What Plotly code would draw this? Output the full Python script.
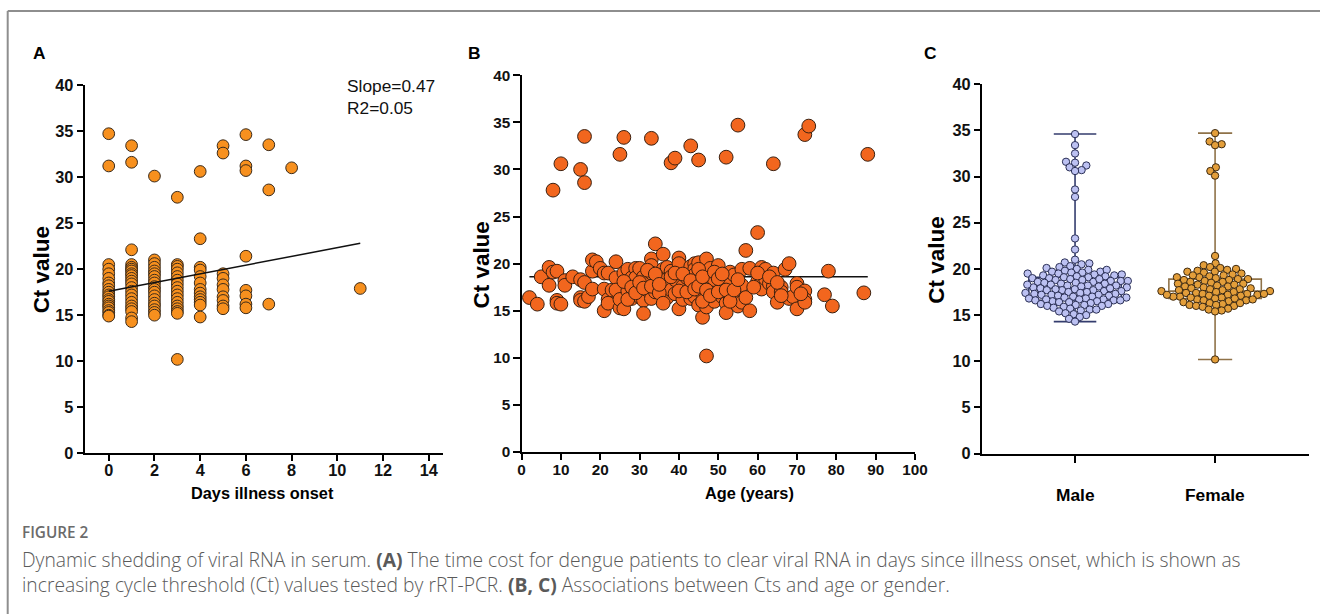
import numpy as np
import plotly.graph_objects as go

# page size of the figure (slightly larger than the window, overflow hidden)
FW, FH = 1340, 634
# measured mapping between page pixels and the photographed picture
SX, OX = 0.987, 4.3
SY, OY = 0.973, 8.0
S = 2 / (SX + SY)            # size compensation for fonts and markers

# ---------------- Panel A data: days since illness onset vs Ct ----------------
days_a = ([0] * 21 + [1] * 22 + [2] * 19 + [3] * 18 + [4] * 13 + [5] * 10 +
          [6] * 8 + [7] * 3 + [8] + [11])
ct_a = [
    # day 0
    34.7, 31.2, 20.5, 20.0, 19.5, 19.0, 18.5, 18.2, 17.8, 17.5, 17.2, 17.0, 16.7,
    16.5, 16.2, 16.0, 15.8, 15.5, 15.3, 15.0, 14.9,
    # day 1
    33.4, 31.6, 22.1, 20.5, 20.2, 20.0, 19.8, 19.5, 19.3, 19.0, 18.7, 18.4, 18.0,
    17.6, 17.2, 16.8, 16.4, 16.0, 15.7, 15.4, 14.7, 14.3,
    # day 2
    30.1, 21.0, 20.6, 20.2, 19.8, 19.5, 19.2, 18.8, 18.5, 18.1, 17.8, 17.5, 17.1,
    16.7, 16.3, 16.0, 15.6, 15.3, 15.0,
    # day 3
    27.8, 20.5, 20.3, 20.0, 19.6, 19.2, 18.8, 18.4, 18.0, 17.6, 17.2, 16.8, 16.4,
    16.0, 15.7, 15.4, 15.2, 10.2,
    # day 4
    30.6, 23.3, 20.2, 19.9, 19.2, 18.5, 17.8, 17.4, 17.0, 16.7, 16.4, 16.1, 14.8,
    # day 5
    33.4, 32.6, 19.5, 19.0, 18.3, 17.8, 17.0, 16.6, 16.0, 15.7,
    # day 6
    34.6, 31.2, 30.7, 21.4, 17.7, 17.1, 16.2, 15.8,
    # day 7
    33.5, 28.6, 16.2,
    # day 8
    31.0,
    # day 11
    17.9,
]
fit_a_x = [0, 11]
fit_a_y = [17.6, 22.8]
stats_a = ["Slope=0.47", "R2=0.05"]
ticks_a_x = [0, 2, 4, 6, 8, 10, 12, 14]

# ---------------- Panel B data: age vs Ct ----------------
age_b = [
    8, 10, 15, 16, 16, 25, 26, 33, 38, 39, 43, 45, 52, 55, 64, 72, 73, 88, 60, 57, 34, 47,
    2, 4, 5, 7, 7, 8, 9, 9, 9, 10, 11, 11, 13, 15, 15, 15, 16, 16, 17, 18, 18, 18, 19, 20,
    21, 21, 21, 22, 22, 22, 23, 24, 24, 24, 25, 25, 26, 26, 27, 27, 27, 28, 28, 29, 29, 30,
    30, 30, 31, 31, 31, 32, 32, 33, 33, 33, 33, 34, 35, 36, 36, 36, 36, 37, 37, 37, 38, 38,
    39, 39, 40, 40, 40, 41, 41, 42, 43, 43, 44, 44, 44, 44, 45, 45, 45, 46, 46, 47, 47, 47,
    48, 48, 49, 49, 50, 51, 51, 52, 52, 52, 53, 53, 53, 54, 55, 55, 56, 56, 56, 58, 58, 60,
    61, 61, 62, 62, 63, 64, 64, 64, 65, 66, 66, 67, 68, 68, 69, 70, 70, 70, 72, 72, 72, 77,
    78, 79, 87,
    26, 27, 28, 29, 30, 31, 32, 33, 34, 35, 35, 38, 39, 40, 41, 42, 43, 44, 45, 45, 46, 46,
    47, 48, 49, 50, 50, 51, 52, 53, 54, 55, 57, 59, 60, 63, 65, 66, 71, 36,
]
ct_b = [
    27.8, 30.6, 30.0, 33.5, 28.6, 31.6, 33.4, 33.3, 30.7, 31.2, 32.5, 31.0, 31.3, 34.7,
    30.6, 33.7, 34.6, 31.6, 23.3, 21.4, 22.1, 10.2,
    16.4, 15.7, 18.6, 19.6, 17.7, 19.1, 19.2, 16.1, 15.8, 15.7, 18.2, 17.7, 18.6, 18.3,
    16.4, 16.1, 18.0, 16.0, 16.5, 17.3, 19.2, 20.4, 20.2, 19.5, 19.0, 17.3, 15.0, 19.0,
    16.2, 15.8, 17.2, 20.2, 18.5, 17.2, 15.3, 16.2, 19.0, 15.2, 19.4, 17.8, 17.1, 16.3,
    18.5, 19.5, 18.5, 19.5, 17.2, 16.5, 18.6, 16.1, 14.7, 18.2, 17.2, 20.5, 19.8, 19.0,
    16.3, 17.0, 18.6, 21.0, 19.4, 18.2, 16.8, 19.6, 17.6, 16.4, 19.2, 17.2, 18.3, 16.8,
    20.6, 20.0, 15.2, 17.6, 16.2, 18.5, 16.3, 19.7, 20.0, 19.4, 18.8, 16.5, 20.1, 18.2,
    15.6, 16.8, 14.3, 20.5, 18.9, 15.4, 19.5, 17.4, 18.3, 16.0, 19.8, 17.6, 16.5, 18.7,
    15.8, 14.8, 19.1, 17.8, 16.5, 18.8, 16.6, 15.5, 19.4, 17.7, 15.9, 19.5, 15.0, 18.1,
    19.6, 17.3, 19.4, 18.4, 17.9, 19.0, 17.6, 17.0, 15.9, 17.5, 17.0, 19.4, 20.0, 16.3,
    16.5, 17.9, 17.5, 15.2, 17.1, 16.2, 15.9, 16.7, 19.2, 15.5, 16.9,
    18.1, 16.2, 17.5, 16.9, 18.0, 17.4, 19.3, 17.6, 18.9, 16.9, 17.8, 18.6, 19.0, 17.1,
    18.9, 17.0, 18.2, 17.3, 17.6, 19.4, 18.6, 16.0, 17.2, 16.6, 19.1, 17.0, 18.4, 18.9,
    17.2, 16.0, 17.2, 18.3, 16.4, 17.5, 19.0, 18.6, 18.0, 16.6, 16.8, 15.8,
]
fit_b_x = [2, 88]
fit_b_y = [18.6, 18.6]
ticks_b_x = [0, 10, 20, 30, 40, 50, 60, 70, 80, 90, 100]

# ---------------- Panel C data: Ct by gender ----------------
groups_c = ["Male", "Female"]
ct_male = [
    34.6, 33.4, 32.5, 31.6, 31.5, 31.2, 31.0, 30.7, 30.6, 28.6, 27.8, 23.3, 22.1, 21.0,
    20.7, 20.6, 20.5,
    20.2, 20.1, 20.0, 20.3,
    19.9, 19.8, 19.7, 19.7, 19.6, 19.5, 19.9, 19.6, 19.5,
    19.4, 19.3, 19.2, 19.2, 19.1, 19.0, 19.4, 19.3, 19.1, 19.0,
    18.9, 18.8, 18.7, 18.7, 18.6, 18.5, 18.9, 18.8, 18.6, 18.5, 18.7,
    18.4, 18.3, 18.2, 18.2, 18.1, 18.0, 18.4, 18.3, 18.1, 18.0, 18.2,
    17.9, 17.8, 17.7, 17.7, 17.6, 17.5, 17.9, 17.8, 17.6, 17.5, 17.7,
    17.4, 17.3, 17.2, 17.2, 17.1, 17.0, 17.4, 17.3, 17.1, 17.0, 17.2,
    16.9, 16.8, 16.7, 16.7, 16.6, 16.5, 16.9, 16.8, 16.6, 16.5, 16.7, 16.6,
    16.4, 16.3, 16.2, 16.1, 16.0, 16.4, 16.2, 16.1, 16.0,
    15.9, 15.7, 15.6, 15.5, 15.8, 15.6,
    15.4, 15.2, 15.1, 15.0,
    14.8, 14.6, 14.3,
]
ct_female = [
    34.7, 33.8, 33.5, 33.4, 31.0, 30.6, 30.1, 21.4, 10.2,
    20.6, 20.4, 20.2, 20.1, 20.0,
    19.9, 19.8, 19.7, 19.6, 19.5, 19.7,
    19.4, 19.3, 19.2, 19.1, 19.0, 19.3, 19.1,
    18.9, 18.8, 18.7, 18.6, 18.5, 18.8, 18.6, 18.9,
    18.4, 18.3, 18.2, 18.1, 18.0, 18.3, 18.1, 18.4,
    17.9, 17.8, 17.7, 17.6, 17.5, 17.8, 17.6, 17.9, 17.7, 17.5,
    17.4, 17.3, 17.2, 17.1, 17.0, 17.3, 17.1, 17.4, 17.2, 17.0, 17.3, 17.2,
    16.9, 16.8, 16.7, 16.6, 16.5, 16.8, 16.6, 16.9, 16.7,
    16.4, 16.3, 16.2, 16.1, 16.0, 16.3, 16.1, 16.0,
    15.9, 15.7, 15.6, 15.5, 15.4,
]
# box statistics (min, Q1, median, Q3, max)
box_male = dict(lower=14.3, q1=16.6, median=17.9, q3=19.1, upper=34.6)
box_female = dict(lower=10.2, q1=16.8, median=17.6, q3=18.9, upper=34.7)

y_ticks = [0, 5, 10, 15, 20, 25, 30, 35, 40]

caption_title = "FIGURE 2"
caption_lines = [
    "Dynamic shedding of viral RNA in serum. <b>(A)</b> The time cost for dengue "
    "patients to clear viral RNA in days since illness onset, which is shown as",
    "increasing cycle threshold (Ct) values tested by rRT-PCR. <b>(B, C)</b> "
    "Associations between Cts and age or gender.",
]


# ---------------- helpers (picture pixel -> page pixel -> paper fraction) ----------------
def page_x(X):
    return (X - OX) / SX


def page_y(Y):
    return (Y - OY) / SY


def px(X):
    return min(page_x(X) / FW, 1.0)


def py(Y):
    return 1 - page_y(Y) / FH


def x_range(dom, v1, X1, v2, X2):
    """axis range so that value v1 sits at picture pixel X1 and v2 at X2"""
    p1, p2 = page_x(X1), page_x(X2)
    ppu = (p2 - p1) / (v2 - v1)
    d0, d1 = px(dom[0]) * FW, px(dom[1]) * FW
    return [v1 + (d0 - p1) / ppu, v1 + (d1 - p1) / ppu], ppu


def beeswarm(values, ppu_y, ppu_x, d):
    """Greedy beeswarm in pixel space; returns x offsets in data units."""
    order = np.argsort(values, kind="stable")
    ys = np.asarray(values, float) * ppu_y
    placed = []
    offs = np.zeros(len(values))
    for k, i in enumerate(order):
        yi = ys[i]
        near = [(xj, yj) for xj, yj in placed if abs(yj - yi) < d]
        cands = [0.0]
        for xj, yj in near:
            dx = np.sqrt(max(d * d - (yj - yi) ** 2, 0))
            cands += [xj + dx, xj - dx]
        side = 1 if k % 2 == 0 else -1
        cands.sort(key=lambda c: (round(abs(c), 3), -side * c))
        chosen = 0.0
        for c in cands:
            if all((c - xj) ** 2 + (yi - yj) ** 2 >= d * d - 1e-6 for xj, yj in near):
                chosen = c
                break
        placed.append((chosen, yi))
        offs[i] = chosen / ppu_x
    return offs


FONT = "Liberation Sans"
fig = go.Figure()

# Panel A
fig.add_trace(go.Scatter(x=days_a, y=ct_a, mode="markers", xaxis="x", yaxis="y",
                         marker=dict(size=11.5 * S, color="#F7901E",
                                     line=dict(color="#3a2a1a", width=1)),
                         showlegend=False, hoverinfo="x+y"))
fig.add_trace(go.Scatter(x=fit_a_x, y=fit_a_y, mode="lines", xaxis="x", yaxis="y",
                         line=dict(color="#111111", width=1.5), showlegend=False))

# Panel B
fig.add_trace(go.Scatter(x=fit_b_x, y=fit_b_y, mode="lines", xaxis="x2", yaxis="y2",
                         line=dict(color="#111111", width=1.5), showlegend=False))
fig.add_trace(go.Scatter(x=age_b, y=ct_b, mode="markers", xaxis="x2", yaxis="y2",
                         marker=dict(size=13.5 * S, color="#F2661E",
                                     line=dict(color="#3a2010", width=1)),
                         showlegend=False, hoverinfo="x+y"))

# axis placement (picture pixels)
a_dom, a_y = [85, 443], [453, 84]
b_dom, b_y = [521.7, 915], [451.7, 74.3]
c_dom, c_y = [982, 1309], [453.3, 83.3]
a_rng, _ = x_range(a_dom, 0, 109, 14, 429)
b_rng, _ = x_range(b_dom, 0, 521.7, 100, 915)
c_rng, c_ppu_x = x_range(c_dom, 0, 1075, 1, 1215)
c_ppu_y = (page_y(c_y[0]) - page_y(c_y[1])) / 40

# Panel C
box_specs = [
    (0, box_male, "#343d6e", 0.46),
    (1, box_female, "#8f7248", 0.37),
]
for xpos, b, col, ww in box_specs:
    fig.add_trace(go.Box(x=[xpos], q1=[b["q1"]], median=[b["median"]], q3=[b["q3"]],
                         lowerfence=[b["lower"]], upperfence=[b["upper"]],
                         xaxis="x3", yaxis="y3", width=0.66, whiskerwidth=ww,
                         line=dict(color=col, width=1.6), fillcolor="rgba(0,0,0,0)",
                         boxpoints=False, showlegend=False, hoverinfo="skip"))

swarm_specs = [
    (0, ct_male, "#BCC1F2", "#2a2f55"),
    (1, ct_female, "#E39E3A", "#3d2a12"),
]
for xpos, vals, fill, edge in swarm_specs:
    offs = beeswarm(vals, c_ppu_y, c_ppu_x, 6.6 * S)
    fig.add_trace(go.Scatter(x=xpos + offs, y=vals, mode="markers", xaxis="x3", yaxis="y3",
                             marker=dict(size=7.2 * S, color=fill,
                                         line=dict(color=edge, width=1)),
                             showlegend=False, hoverinfo="y"))


def tfont(size):
    return dict(family=FONT, size=size * S, color="#111", weight="bold")


axis_common = dict(showgrid=False, zeroline=False, showline=True, linecolor="#000",
                   linewidth=2, ticks="outside", ticklen=6 * S, tickwidth=2, tickcolor="#000",
                   tickfont=tfont(16), fixedrange=True)

fig.update_layout(
    width=FW, height=FH, margin=dict(l=0, r=0, t=0, b=0),
    paper_bgcolor="white", plot_bgcolor="white",
    xaxis=dict(axis_common, domain=[px(a_dom[0]), px(a_dom[1])], range=a_rng,
               tickvals=ticks_a_x, anchor="y", ticklabelstandoff=-5),
    yaxis=dict(axis_common, domain=[py(a_y[0]), py(a_y[1])], range=[0, 40],
               tickvals=y_ticks, anchor="x"),
    xaxis2=dict(axis_common, domain=[px(b_dom[0]), px(b_dom[1])], range=b_rng,
                tickvals=ticks_b_x, anchor="y2", tickfont=tfont(15), ticklabelstandoff=-4),
    yaxis2=dict(axis_common, domain=[py(b_y[0]), py(b_y[1])], range=[0, 40],
                tickvals=y_ticks, anchor="x2", tickfont=tfont(15)),
    xaxis3=dict(axis_common, domain=[px(c_dom[0]), px(c_dom[1])], range=c_rng,
                tickvals=[0, 1], showticklabels=False, ticklen=7 * S, anchor="y3"),
    yaxis3=dict(axis_common, domain=[py(c_y[0]), py(c_y[1])], range=[0, 40],
                tickvals=y_ticks, anchor="x3"),
)

ann = []


def text(x, y, s, size, bold=True, color="#000", xanchor="center", angle=0, family=FONT,
         weight=None, align="center"):
    ann.append(dict(x=px(x), y=py(y), xref="paper", yref="paper", text=s, showarrow=False,
                    xanchor=xanchor, yanchor="middle", textangle=angle, borderpad=0,
                    align=align,
                    font=dict(family=family, size=size * S, color=color,
                              weight=weight or ("bold" if bold else "normal"))))


# panel letters
text(40, 52, "A", 17)
text(475, 52, "B", 17)
text(931, 52, "C", 17)
# y titles
text(42, 269, "Ct value", 22, angle=-90)
text(482, 264, "Ct value", 22, angle=-90)
text(937, 259, "Ct value", 22, angle=-90)
# x titles
text(263, 493, "Days illness onset", 16)
text(750, 493, "Age (years)", 16)
for g, xc in zip(groups_c, [1075, 1215]):
    text(xc, 495, g, 17)
# stats
text(346, 85, stats_a[0], 17, bold=False, xanchor="left", color="#111")
text(346, 107, stats_a[1], 17, bold=False, xanchor="left", color="#111")
# caption
CAP = "Open Sans"
text(21, 532, caption_title, 15, xanchor="left", color="#6b6b6b", family=CAP, weight=600)
text(21, 571.5, "<br>".join(caption_lines), 18.9, xanchor="left", color="#5a5a5a",
     family=CAP, weight=300, align="left")
fig.update_layout(annotations=ann)

# frame (top and left borders)
fig.update_layout(shapes=[
    dict(type="line", xref="paper", yref="paper", x0=px(8), x1=1.0, y0=py(10), y1=py(10),
         line=dict(color="#8e8e8e", width=2)),
    dict(type="line", xref="paper", yref="paper", x0=px(8), x1=px(8), y0=py(10), y1=0.0,
         line=dict(color="#8e8e8e", width=2)),
])

fig.write_html("out.html", config={"displayModeBar": False},
               post_script="document.body.style.margin='0';"
                           "document.documentElement.style.overflow='hidden';")
